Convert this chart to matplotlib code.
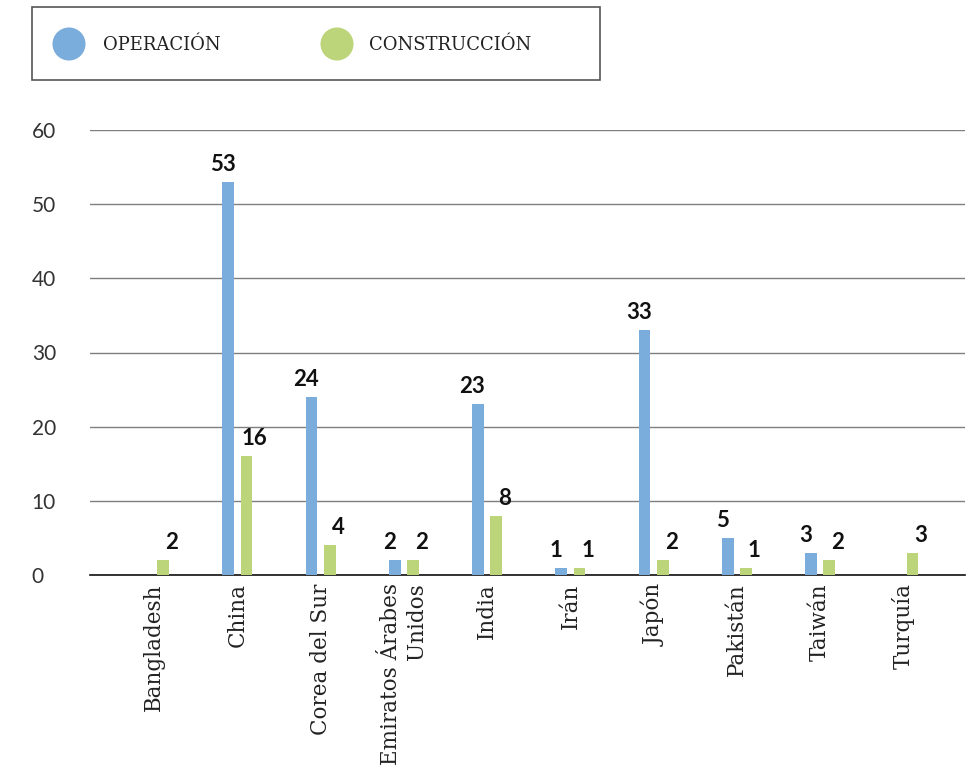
import matplotlib.pyplot as plt
import numpy as np
from matplotlib.patches import Rectangle

# Reactores por país: en operación y en construcción
paises = ["Bangladesh", "China", "Corea del Sur", "Emiratos Árabes\nUnidos", "India",
          "Irán", "Japón", "Pakistán", "Taiwán", "Turquía"]
operacion = [0, 53, 24, 2, 23, 1, 33, 5, 3, 0]
construccion = [2, 16, 4, 2, 8, 1, 2, 1, 2, 3]

azul = '#7aaddc'
verde = '#bcd57a'

fig = plt.figure(figsize=(9.74, 7.74), dpi=100)
W, H = 974, 774
ax = fig.add_axes([90 / W, (H - 575) / H, 875 / W, 445 / H])

x = np.arange(len(paises))
ancho = 0.14
desp = 0.11
ax.bar(x - desp, operacion, ancho, color=azul, zorder=3)
ax.bar(x + desp, construccion, ancho, color=verde, zorder=3)

# etiquetas de valor (solo las distintas de cero)
for i, v in enumerate(operacion):
    if v:
        ax.annotate(str(v), (x[i] - desp, v), xytext=(-4, 5), textcoords='offset points',
                    ha='center', va='bottom', fontsize=16, fontweight='bold',
                    family='Lato', color='#111111')
for i, v in enumerate(construccion):
    if v:
        ax.annotate(str(v), (x[i] + desp, v), xytext=(6, 5), textcoords='offset points',
                    ha='center', va='bottom', fontsize=16, fontweight='bold',
                    family='Lato', color='#111111')

ax.set_xlim(-0.77, 9.74)
ax.set_ylim(0, 60)
ax.set_yticks(range(0, 61, 10))
ax.yaxis.grid(True, color='#7f7f7f', linewidth=1.0, zorder=0)
ax.tick_params(axis='y', length=0, pad=42, labelsize=15, labelcolor='#333333')
for lbl in ax.get_yticklabels():
    lbl.set_family('Lato')
    lbl.set_horizontalalignment('left')

ax.set_xticks(x)
ax.set_xticklabels(paises, rotation=90, va='top', ha='center', multialignment='right',
                   family='DejaVu Serif', fontsize=15.5, color='#222222')
ax.tick_params(axis='x', length=0, pad=6)

for s in ['top', 'right', 'left']:
    ax.spines[s].set_visible(False)
ax.spines['bottom'].set_color('#111111')
ax.spines['bottom'].set_linewidth(1.2)

# leyenda en un recuadro aparte
lg = fig.add_axes([0, 0, 1, 1], zorder=5)
lg.set_xlim(0, W)
lg.set_ylim(H, 0)
lg.axis('off')
lg.add_patch(Rectangle((32, 7), 568, 73, fill=False, edgecolor='#555555', linewidth=1.2))
lg.scatter([69, 337], [44, 44], s=33 ** 2 * 0.52, color=[azul, verde], edgecolors='none')
lg.text(103, 45, 'OPERACIÓN', va='center', ha='left', family='DejaVu Serif',
        fontsize=13, color='#222222')
lg.text(369, 45, 'CONSTRUCCIÓN', va='center', ha='left', family='DejaVu Serif',
        fontsize=13, color='#222222')

fig.savefig('out.png', dpi=100)
